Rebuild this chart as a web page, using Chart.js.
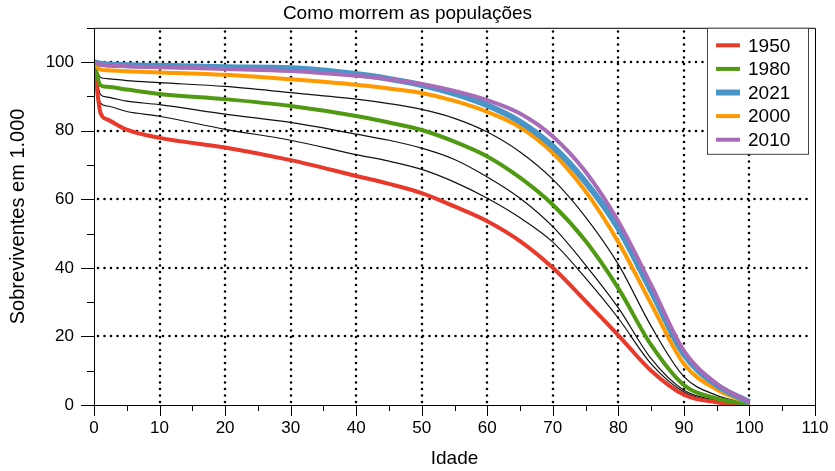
<!DOCTYPE html>
<html>
<head>
<meta charset="utf-8">
<script src="https://cdn.jsdelivr.net/npm/chart.js@4"></script>
<style>
  body { margin: 0; background: #fff; }
</style>
</head>
<body>
<canvas id="c" width="835" height="471"></canvas>
<script>
// ages (x) and survivors per 1.000 for each generation
const ages = [0, 1, 2, 5, 10, 20, 30, 40, 45, 50, 55, 60, 65, 70, 75, 80, 85, 90, 95, 100];

const s1950 = [100, 85.1, 83.3, 80.3, 77.9, 75.1, 71.4, 66.8, 64.5, 61.8, 57.9, 53.6, 47.8, 40.0, 30.3, 20.3, 10.0, 3.0, 0.8, 0.0];
const s1960 = [100, 88.0, 87.2, 85.6, 84.2, 80.4, 77.2, 73.0, 71.1, 68.7, 65.0, 60.3, 54.6, 47.5, 37.0, 25.3, 12.0, 3.8, 1.1, 0.05];
const s1970 = [100, 90.5, 89.8, 88.6, 87.6, 84.8, 82.4, 79.0, 77.2, 74.9, 71.6, 66.5, 60.3, 52.0, 40.8, 28.3, 13.5, 4.3, 1.4, 0.1];
const s1980 = [100, 93.2, 92.8, 92.0, 90.7, 89.2, 87.2, 84.3, 82.4, 80.2, 76.8, 72.5, 66.3, 58.4, 47.8, 34.0, 17.5, 5.8, 1.9, 0.2];
const s1990 = [100, 95.5, 95.2, 94.6, 94.0, 92.9, 91.1, 89.2, 87.9, 86.2, 83.6, 79.6, 73.8, 65.8, 54.8, 41.0, 23.0, 8.3, 2.8, 0.3];
const s2000 = [100, 97.8, 97.6, 97.3, 97.0, 96.3, 95.0, 93.4, 92.3, 91.0, 88.7, 85.5, 81.0, 73.5, 62.3, 47.5, 29.5, 12.0, 4.5, 0.6];
const s2010 = [100, 99.3, 99.1, 98.8, 98.5, 98.0, 97.4, 96.0, 95.0, 93.6, 91.6, 88.9, 85.0, 78.3, 68.0, 53.5, 35.0, 15.8, 6.2, 0.9];
const s2021 = [100, 99.5, 99.3, 99.1, 98.9, 98.5, 98.2, 96.5, 95.1, 93.3, 90.8, 87.4, 82.6, 75.4, 65.0, 51.5, 33.3, 14.8, 5.8, 0.8];

const legendYears = ['1950', '1980', '2021', '2000', '2010'];
const xTicks = [0, 10, 20, 30, 40, 50, 60, 70, 80, 90, 100, 110];
const yTicks = [0, 20, 40, 60, 80, 100];

const FONT = "'Liberation Sans', Arial, Helvetica, sans-serif";

function pts(arr) {
  return ages.map((a, i) => ({ x: a, y: arr[i] }));
}

function line(label, arr, color, width, order) {
  return {
    label: label,
    data: pts(arr),
    borderColor: color,
    backgroundColor: color,
    borderWidth: width,
    pointRadius: 0,
    fill: false,
    cubicInterpolationMode: 'monotone',
    order: order
  };
}

const datasets = [
  line('1960', s1960, '#111', 1.2, 10),
  line('1970', s1970, '#111', 1.2, 9),
  line('1990', s1990, '#111', 1.2, 8),
  line('1950', s1950, '#e8392b', 4, 6),
  line('1980', s1980, '#4f9a12', 4, 5),
  line('2000', s2000, '#ff9900', 4, 4),
  line('2021', s2021, '#4995c8', 6, 3),
  line('2010', s2010, '#a86bb8', 4, 2)
];

// dotted grid, tick marks and frame
const framePlugin = {
  id: 'frame',
  beforeDatasetsDraw(chart) {
    const ctx = chart.ctx;
    const xs = chart.scales.x, ys = chart.scales.y;
    const a = chart.chartArea;
    ctx.save();
    ctx.strokeStyle = '#000';
    ctx.lineWidth = 2.6;
    ctx.lineCap = 'round';
    ctx.setLineDash([0, 6.5]);
    for (let v = 10; v <= 100; v += 10) {
      const px = Math.round(xs.getPixelForValue(v));
      ctx.beginPath();
      ctx.moveTo(px, a.bottom - 3);
      ctx.lineTo(px, a.top + 2);
      ctx.stroke();
    }
    for (let v = 20; v <= 100; v += 20) {
      const py = Math.round(ys.getPixelForValue(v));
      ctx.beginPath();
      ctx.moveTo(a.left + 4, py);
      ctx.lineTo(a.right - 2, py);
      ctx.stroke();
    }
    ctx.restore();
  },
  afterDatasetsDraw(chart) {
    const ctx = chart.ctx;
    const xs = chart.scales.x, ys = chart.scales.y;
    const a = chart.chartArea;
    ctx.save();
    ctx.strokeStyle = '#000';
    ctx.lineWidth = 1;
    ctx.beginPath();
    ctx.moveTo(a.left + 0.5, a.top + 0.5);
    ctx.lineTo(a.right + 0.5, a.top + 0.5);
    ctx.lineTo(a.right + 0.5, a.bottom + 0.5);
    ctx.lineTo(a.left + 0.5, a.bottom + 0.5);
    ctx.closePath();
    ctx.stroke();
    for (let v = 0; v <= 110; v += 5) {
      const px = Math.round(xs.getPixelForValue(v)) + 0.5;
      const len = v % 10 === 0 ? 11 : 6;
      ctx.beginPath();
      ctx.moveTo(px, a.bottom);
      ctx.lineTo(px, a.bottom + len);
      ctx.stroke();
    }
    for (let v = 0; v <= 110; v += 10) {
      const py = Math.round(ys.getPixelForValue(v)) + 0.5;
      const len = v % 20 === 0 ? 13 : 7;
      ctx.beginPath();
      ctx.moveTo(a.left, py);
      ctx.lineTo(a.left - len, py);
      ctx.stroke();
    }
    ctx.restore();
  }
};

// boxed legend in the upper right corner of the plot
const boxLegend = {
  id: 'boxLegend',
  afterDraw(chart) {
    const ctx = chart.ctx;
    const a = chart.chartArea;
    const w = 101, rowH = 23.6;
    const x0 = a.right - 108, y0 = a.top;
    const h = 126;
    ctx.save();
    ctx.fillStyle = '#fff';
    ctx.fillRect(x0, y0, w, h);
    ctx.strokeStyle = '#444';
    ctx.lineWidth = 1;
    ctx.strokeRect(x0 + 0.5, y0 + 0.5, w, h);
    ctx.font = '19px ' + FONT;
    ctx.textBaseline = 'middle';
    ctx.fillStyle = '#000';
    legendYears.forEach((yr, i) => {
      const ds = chart.data.datasets.find(d => d.label === yr);
      const cy = y0 + 17.5 + i * rowH;
      ctx.strokeStyle = ds.borderColor;
      ctx.lineWidth = ds.borderWidth;
      ctx.beginPath();
      ctx.moveTo(x0 + 9, cy);
      ctx.lineTo(x0 + 33, cy);
      ctx.stroke();
      ctx.fillText(yr, x0 + 41, cy + 1);
    });
    ctx.restore();
  }
};

new Chart(document.getElementById('c'), {
  type: 'line',
  data: { datasets: datasets },
  options: {
    responsive: false,
    animation: false,
    devicePixelRatio: 1,
    layout: { padding: { left: 0, right: 20, top: 0, bottom: 0 } },
    plugins: {
      legend: { display: false },
      tooltip: { enabled: false },
      title: {
        display: true,
        text: 'Como morrem as populações',
        color: '#000',
        font: { family: FONT, size: 19, weight: 'normal' },
        padding: { top: 2, bottom: 3 }
      }
    },
    scales: {
      x: {
        type: 'linear',
        min: 0,
        max: 110,
        afterFit: s => { s.height = 66; s.paddingLeft = 0; s.paddingRight = 0; },
        afterBuildTicks: s => { s.ticks = xTicks.map(v => ({ value: v })); },
        grid: { display: false, drawTicks: false },
        border: { display: false },
        ticks: { color: '#000', padding: 13, font: { family: FONT, size: 17 }, maxRotation: 0 },
        title: {
          display: true,
          text: 'Idade',
          color: '#000',
          font: { family: FONT, size: 19 },
          padding: { top: 0, bottom: 1 }
        }
      },
      y: {
        min: 0,
        max: 110,
        afterFit: s => { s.width = 94; s.paddingTop = 0; s.paddingBottom = 0; },
        afterBuildTicks: s => { s.ticks = yTicks.map(v => ({ value: v })); },
        grid: { display: false, drawTicks: false },
        border: { display: false },
        ticks: { color: '#000', padding: 20, font: { family: FONT, size: 17 } },
        title: {
          display: true,
          text: 'Sobreviventes em 1.000',
          color: '#000',
          font: { family: FONT, size: 20 },
          padding: { top: 6, bottom: 0 }
        }
      }
    }
  },
  plugins: [framePlugin, boxLegend]
});
</script>
</body>
</html>
